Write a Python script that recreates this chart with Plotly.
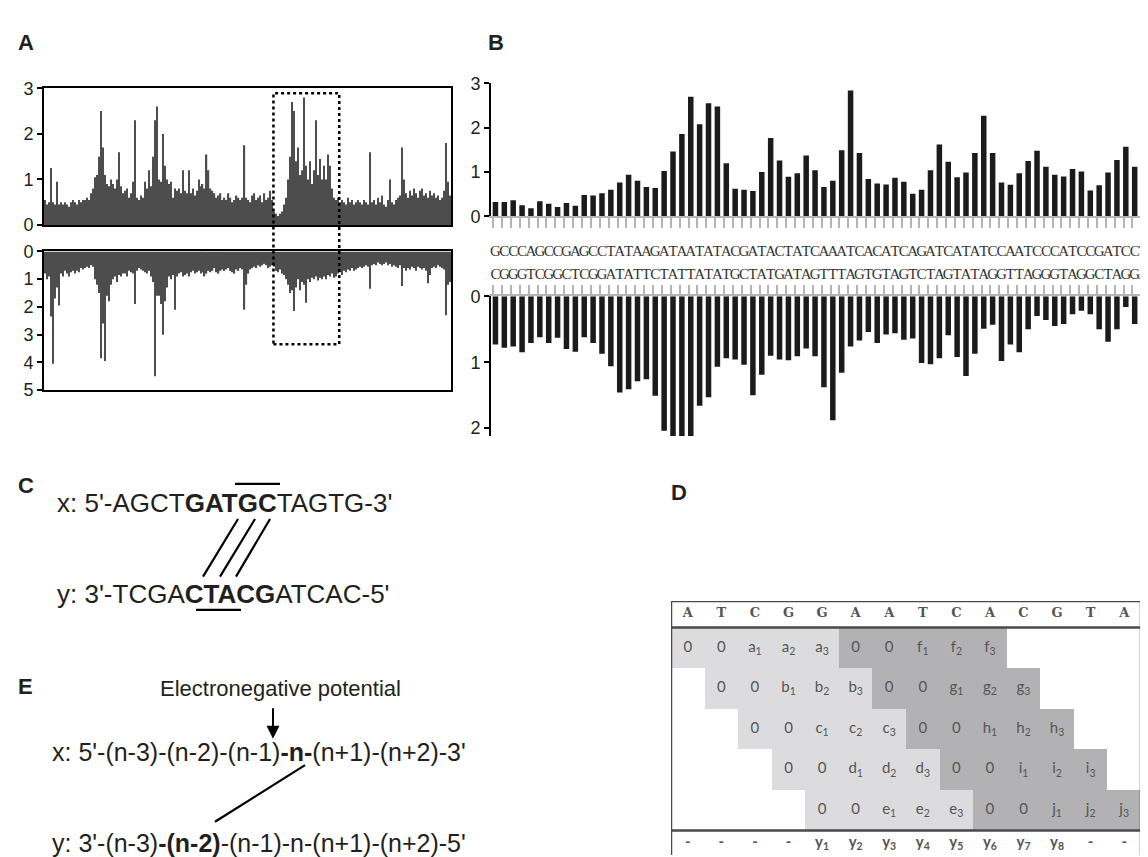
import plotly.graph_objects as go

W, H = 1148, 857

# ---------------- data ----------------
a_forward = [
    0.55, 0.45, 0.5, 1.25, 0.5, 0.45, 0.95, 0.45, 0.5, 0.45,
    0.5, 0.45, 0.4, 0.5, 0.55, 0.5, 0.45, 0.55, 0.5, 0.55,
    0.55, 0.6, 0.55, 0.7, 0.8, 1.05, 1.1, 1.5, 2.5, 1.7,
    1.1, 0.9, 0.85, 1.0, 0.9, 0.8, 1.0, 1.6, 0.85, 0.7,
    0.75, 0.8, 0.6, 0.7, 0.95, 2.3, 0.6, 0.55, 0.65, 0.6,
    0.95, 0.8, 1.2, 0.85, 1.5, 2.3, 2.6, 1.0, 0.95, 2.0,
    1.3, 1.0, 0.9, 0.95, 0.6, 0.8, 0.75, 0.8, 0.7, 1.2,
    0.75, 0.7, 1.2, 0.7, 0.8, 0.65, 0.75, 1.0, 0.85, 0.9,
    0.8, 1.55, 1.2, 0.8, 0.75, 0.7, 0.6, 0.65, 0.7, 0.55,
    0.6, 0.55, 0.7, 0.6, 0.5, 0.55, 0.65, 0.6, 0.55, 0.6,
    1.75, 0.6, 0.55, 0.5, 0.65, 0.7, 0.55, 0.6, 0.65, 0.5,
    0.7, 0.55, 0.6, 0.75, 0.55, 0.3, 0.25, 0.2, 0.25, 0.3,
    0.45, 0.6, 1.0, 1.5, 2.7, 2.5, 1.4, 1.7, 1.1, 1.2,
    2.8, 1.3, 1.0, 1.4, 0.9, 1.2, 2.3, 1.1, 1.45, 1.0,
    1.3, 1.0, 1.55, 1.3, 0.8, 0.6, 0.55, 0.6, 0.5, 0.55,
    0.5, 0.45, 0.6, 0.5, 0.55, 0.45, 0.5, 0.55, 0.5, 0.45,
    0.55, 0.5, 0.45, 1.6, 0.5, 0.55, 0.45, 0.6, 0.5, 0.65,
    0.45, 0.4, 0.55, 1.0, 0.5, 0.45, 0.55, 0.6, 0.65, 1.7,
    1.0, 0.7, 0.6, 0.75, 0.65, 0.8, 0.7, 0.6, 0.75, 0.8,
    0.65, 0.7, 0.6, 0.75, 0.65, 0.7, 0.6, 0.65, 0.55, 0.6,
    0.75, 1.8, 0.95, 0.65,
]
a_reverse = [
    0.8, 1.0, 0.9, 2.35, 4.05, 1.7, 1.3, 1.95, 0.8, 0.9,
    0.7, 0.8, 0.9, 0.75, 0.7, 0.8, 0.7, 0.75, 0.6, 0.65,
    0.6, 0.55, 0.6, 0.5, 0.55, 1.0, 1.2, 1.5, 3.85, 2.6,
    3.95, 1.6, 1.8, 1.2, 1.0, 0.9, 1.1, 0.85, 0.9, 0.8,
    0.8, 0.9, 0.7, 0.75, 0.8, 1.9, 0.7, 0.6, 0.65, 0.7,
    0.75, 0.8, 0.7, 0.9, 1.1, 4.5, 1.6, 1.6, 1.9, 3.0,
    1.8, 1.3, 0.9, 1.0, 0.85, 2.1, 0.9, 0.8, 0.75, 0.9,
    0.85, 0.8, 0.9, 0.75, 0.7, 0.8, 0.75, 0.7, 0.8, 0.75,
    0.9, 0.8, 0.7, 0.75, 0.7, 0.6, 0.75, 0.8, 0.7, 0.65,
    0.7, 0.65, 0.6, 0.7, 0.75, 0.8, 0.65, 0.7, 0.6, 0.65,
    2.1, 1.2, 0.8, 0.65, 0.6, 0.55, 0.6, 0.5, 0.55, 0.5,
    0.45, 0.5, 0.6, 0.55, 0.5, 0.55, 0.7, 0.75, 0.65, 0.8,
    0.85, 1.0, 1.2, 1.5, 1.4, 2.15, 1.3, 1.0, 1.4, 1.1,
    1.2, 1.85, 1.0, 1.1, 0.95, 1.0, 0.9, 1.05, 0.95, 1.0,
    0.9, 1.0, 0.85, 0.9, 0.8, 0.95, 0.9, 0.8, 0.75, 0.85,
    0.7, 0.75, 0.65, 0.7, 0.6, 0.7, 0.65, 0.6, 0.55, 0.6,
    0.55, 0.5, 0.55, 1.35, 0.5, 0.45, 0.5, 0.4, 0.45, 0.5,
    0.45, 0.4, 0.5, 0.45, 0.55, 0.5, 0.55, 0.6, 0.5, 1.25,
    0.6, 0.7, 0.6, 0.65, 0.55, 0.6, 0.7, 0.55, 0.6, 0.65,
    0.6, 0.7, 1.15, 0.85, 0.6, 0.55, 0.6, 0.5, 0.55, 0.6,
    0.65, 2.3, 1.2, 1.1,
]

b_top = [
    0.32, 0.32, 0.36, 0.25, 0.18, 0.34, 0.28, 0.21, 0.30, 0.24,
    0.48, 0.47, 0.52, 0.60, 0.76, 0.94, 0.80, 0.66, 0.64, 1.02,
    1.46, 1.86, 2.70, 2.08, 2.55, 2.48, 1.20, 0.62, 0.60, 0.57,
    1.00, 1.77, 1.26, 0.89, 0.97, 1.37, 1.04, 0.66, 0.80, 1.49,
    2.84, 1.43, 0.84, 0.74, 0.72, 0.87, 0.78, 0.51, 0.60, 1.04,
    1.62, 1.23, 0.88, 0.99, 1.43, 2.27, 1.43, 0.76, 0.71, 0.97,
    1.25, 1.48, 1.12, 0.94, 0.90, 1.07, 1.01, 0.58, 0.70, 0.99,
    1.27, 1.57, 1.12, 1.04,
]
b_bottom = [
    0.73, 0.78, 0.76, 0.85, 0.71, 0.62, 0.71, 0.63, 0.80, 0.84,
    0.62, 0.71, 0.87, 1.06, 1.46, 1.41, 1.29, 1.26, 1.51, 2.04,
    2.12, 2.12, 2.14, 1.66, 1.53, 1.07, 0.94, 0.96, 1.04, 1.50,
    1.19, 0.90, 0.96, 0.97, 0.91, 0.79, 0.91, 1.38, 1.88, 1.16,
    0.76, 0.67, 0.54, 0.71, 0.58, 0.56, 0.66, 0.64, 1.01, 1.03,
    0.94, 0.59, 0.92, 1.21, 0.87, 0.49, 0.43, 0.98, 0.73, 0.85,
    0.50, 0.30, 0.36, 0.45, 0.42, 0.27, 0.22, 0.27, 0.50, 0.69,
    0.50, 0.16, 0.42, 0.72,
]
seq_top = "GCCCAGCCGAGCCTATAAGATAATATACGATACTATCAAATCACATCAGATCATATCCAATCCCATCCGATCCT"
seq_bottom = "CGGGTCGGCTCGGATATTCTATTATATGCTATGATAGTTTAGTGTAGTCTAGTATAGGTTAGGGTAGGCTAGGA"

table_header = ["A", "T", "C", "G", "G", "A", "A", "T", "C", "A", "C", "G", "T", "A"]
table_cells = [
    ["0", "0", "a1", "a2", "a3", "0", "0", "f1", "f2", "f3", "", "", "", ""],
    ["", "0", "0", "b1", "b2", "b3", "0", "0", "g1", "g2", "g3", "", "", ""],
    ["", "", "0", "0", "c1", "c2", "c3", "0", "0", "h1", "h2", "h3", "", ""],
    ["", "", "", "0", "0", "d1", "d2", "d3", "0", "0", "i1", "i2", "i3", ""],
    ["", "", "", "", "0", "0", "e1", "e2", "e3", "0", "0", "j1", "j2", "j3"],
]
table_shade = [
    [1, 1, 1, 1, 1, 2, 2, 2, 2, 2, 0, 0, 0, 0],
    [0, 1, 1, 1, 1, 1, 2, 2, 2, 2, 2, 0, 0, 0],
    [0, 0, 1, 1, 1, 1, 1, 2, 2, 2, 2, 2, 0, 0],
    [0, 0, 0, 1, 1, 1, 1, 1, 2, 2, 2, 2, 2, 0],
    [0, 0, 0, 0, 1, 1, 1, 1, 1, 2, 2, 2, 2, 2],
]
table_footer = ["-", "-", "-", "-", "y1", "y2", "y3", "y4", "y5", "y6", "y7", "y8", "-", "-"]

# ---------------- helpers ----------------
def px(x):
    return x / W

def py(y):
    return 1 - y / H

def sub(label):
    if len(label) == 2 and label[1].isdigit():
        return f"{label[0]}<sub>{label[1]}</sub>"
    return label

SANS = "Liberation Sans, Arial, sans-serif"
INK = "#231f20"

fig = go.Figure()

# Panel A
fig.add_trace(go.Bar(x=list(range(len(a_forward))), y=a_forward, width=0.62,
                     marker=dict(color="#4d4d4d", line=dict(width=0)),
                     xaxis="x", yaxis="y", hoverinfo="skip"))
fig.add_trace(go.Bar(x=list(range(len(a_reverse))), y=a_reverse, width=0.62,
                     marker=dict(color="#4d4d4d", line=dict(width=0)),
                     xaxis="x2", yaxis="y2", hoverinfo="skip"))
# Panel B
nb = len(b_top)
fig.add_trace(go.Bar(x=list(range(nb)), y=b_top, width=0.62,
                     marker=dict(color="#1b1b1b", line=dict(width=0)),
                     xaxis="x3", yaxis="y3", hoverinfo="skip"))
fig.add_trace(go.Bar(x=list(range(nb)), y=b_bottom, width=0.62,
                     marker=dict(color="#1b1b1b", line=dict(width=0)),
                     xaxis="x4", yaxis="y4", hoverinfo="skip"))
seqfont = dict(family="Liberation Serif, serif", size=15, color="#333333")
fig.add_trace(go.Scatter(x=list(range(len(seq_top))), y=[1] * len(seq_top),
                         mode="text", text=list(seq_top), textfont=seqfont, cliponaxis=False,
                         xaxis="x5", yaxis="y5", hoverinfo="skip"))
fig.add_trace(go.Scatter(x=list(range(len(seq_bottom))), y=[0] * len(seq_bottom),
                         mode="text", text=list(seq_bottom), textfont=seqfont, cliponaxis=False,
                         xaxis="x5", yaxis="y5", hoverinfo="skip"))

# Panel D table
ncol = len(table_header)
fig.add_trace(go.Heatmap(z=table_shade, x=list(range(ncol)), y=list(range(len(table_shade))),
                         zmin=0, zmax=2, showscale=False, hoverinfo="skip",
                         colorscale=[[0, "#ffffff"], [0.5, "#dcdcde"], [1, "#b2b2b4"]],
                         xaxis="x6", yaxis="y6"))
cx, cy, ct = [], [], []
for r, row in enumerate(table_cells):
    for c, lab in enumerate(row):
        if lab:
            cx.append(c); cy.append(r); ct.append(sub(lab))
cellfont = dict(family="Lato, Open Sans, sans-serif", size=15, color="#555555")
fig.add_trace(go.Scatter(x=cx, y=cy, mode="text", text=ct, textfont=cellfont, cliponaxis=False,
                         xaxis="x6", yaxis="y6", hoverinfo="skip"))
fig.add_trace(go.Scatter(x=list(range(ncol)), y=[-0.83] * ncol, mode="text",
                         text=[f"<b>{h}</b>" for h in table_header], cliponaxis=False,
                         textfont=dict(family="DejaVu Serif, serif", size=13, color="#555555"),
                         xaxis="x6", yaxis="y6", hoverinfo="skip"))
fig.add_trace(go.Scatter(x=list(range(ncol)), y=[4.8] * ncol, mode="text", cliponaxis=False,
                         text=[f"<b>{sub(f)}</b>" for f in table_footer], textfont=cellfont,
                         xaxis="x6", yaxis="y6", hoverinfo="skip"))

tickfont = dict(family=SANS, size=18, color=INK)
boxax = dict(showline=True, mirror=True, linecolor="black", linewidth=2,
             showgrid=False, zeroline=False, showticklabels=False, ticks="")
yax = dict(showline=True, linecolor="black", linewidth=2, showgrid=False, zeroline=False,
           ticks="outside", ticklen=5, tickwidth=2, tickcolor="black", tickfont=tickfont)

XB = [px(483), px(1140)]
fig.update_layout(
    width=W, height=H, margin=dict(l=0, r=0, t=0, b=0),
    paper_bgcolor="white", plot_bgcolor="rgba(0,0,0,0)", showlegend=False,
    xaxis=dict(domain=[px(36), px(443)], range=[-0.5, len(a_forward) - 0.5], anchor="y", **boxax),
    yaxis=dict(domain=[py(212), py(72)], range=[0, 3], tickvals=[0, 1, 2, 3], anchor="x",
               mirror=True, **yax),
    xaxis2=dict(domain=[px(36), px(443)], range=[-0.5, len(a_reverse) - 0.5], anchor="y2", **boxax),
    yaxis2=dict(domain=[py(381), py(239)], range=[5, 0], tickvals=[0, 1, 2, 3, 4, 5], anchor="x2",
                mirror=True, **yax),
    xaxis3=dict(domain=XB, range=[-0.5, nb - 0.5], anchor="y3",
                showline=True, linecolor="#b5b5b5", linewidth=1.5, showgrid=False, zeroline=False,
                ticks="outside", tickvals=[i - 0.25 for i in range(nb)], ticklen=10,
                tickcolor="#b5b5b5", tickwidth=1.5, showticklabels=False),
    yaxis3=dict(domain=[py(203), py(67)], range=[0, 3], tickvals=[0, 1, 2, 3], anchor="x3", **yax),
    xaxis4=dict(domain=XB, range=[-0.5, nb - 0.5], anchor="y4", side="top",
                showline=True, linecolor="#b5b5b5", linewidth=1.5, showgrid=False, zeroline=False,
                ticks="outside", tickvals=[i - 0.25 for i in range(nb)], ticklen=10,
                tickcolor="#b5b5b5", tickwidth=1.5, showticklabels=False),
    yaxis4=dict(domain=[py(428), py(285)], range=[2.12, 0], tickvals=[0, 1, 2], anchor="x4", **yax),
    xaxis5=dict(domain=XB, range=[-0.5, nb - 0.5], anchor="y5", visible=False),
    yaxis5=dict(domain=[py(275), py(228)], range=[-0.5, 1.5], anchor="x5", visible=False),
    xaxis6=dict(domain=[px(663), px(1133)], range=[-0.5, ncol - 0.5], anchor="y6", visible=False),
    yaxis6=dict(domain=[0, py(597)], range=[5.1, -1.15], anchor="x6", visible=False),
)

shapes = []
# dashed box in panel A
shapes.append(dict(type="rect", xref="x", yref="paper", x0=114.5, x1=147.5,
                   y0=py(334), y1=py(77), line=dict(color="black", width=2.5, dash="dot")))
# table lines
for yv in [-1.15, -0.5, 4.5]:
    shapes.append(dict(type="line", xref="x6", yref="y6", x0=-0.5, x1=ncol - 0.5, y0=yv, y1=yv,
                       line=dict(color="#4a4a4a", width=2.5)))
for xv in [-0.5, ncol - 0.5]:
    shapes.append(dict(type="line", xref="x6", yref="y6", x0=xv, x1=xv, y0=-1.3, y1=5.1,
                       line=dict(color="#4a4a4a", width=2.5)))

def pline(x0, y0, x1, y1, w=2.2):
    return dict(type="line", xref="paper", yref="paper", x0=px(x0), y0=py(y0),
                x1=px(x1), y1=py(y1), line=dict(color="black", width=w))

# panel C marks
shapes.append(pline(227, 477, 272, 477))
shapes.append(pline(188, 606, 233, 606))
shapes.append(pline(230, 513, 195, 572))
shapes.append(pline(247, 513, 212, 572))
shapes.append(pline(262, 513, 228, 572))
# panel E mark
shapes.append(pline(297, 765, 207, 823))
fig.update_layout(shapes=shapes)

ann = []
def label(t, x, y, size=22):
    ann.append(dict(text=f"<b>{t}</b>", x=px(x), y=py(y), xref="paper", yref="paper",
                    xanchor="left", yanchor="middle", showarrow=False,
                    font=dict(family=SANS, size=size, color=INK)))

label("A", 8, 25)
label("B", 478, 25)
label("C", 8, 479)
label("D", 661, 486)
label("E", 8, 684)

def txt(t, x, y, size):
    ann.append(dict(text=t, x=px(x), y=py(y), xref="paper", yref="paper",
                    xanchor="left", yanchor="middle", showarrow=False,
                    font=dict(family=SANS, size=size, color=INK)))

txt("x: 5'-AGCT<b>GATGC</b>TAGTG-3'", 47, 497, 26)
txt("y: 3'-TCGA<b>CTACG</b>ATCAC-5'", 47, 590, 26)
txt("Electronegative potential", 150, 687, 22)
txt("x: 5'-(n-3)-(n-2)-(n-1)<b>-n-</b>(n+1)-(n+2)-3'", 42, 752, 25)
txt("y: 3'-(n-3)<b>-(n-2)</b>-(n-1)-n-(n+1)-(n+2)-5'", 42, 845, 25)

# arrow in panel E
ann.append(dict(text="", x=px(265), y=py(738), xref="paper", yref="paper",
                ax=0, ay=-32, showarrow=True, arrowhead=2, arrowsize=1.3, arrowwidth=2,
                arrowcolor="black"))
fig.update_layout(annotations=ann)

fig.write_html("out.html")
